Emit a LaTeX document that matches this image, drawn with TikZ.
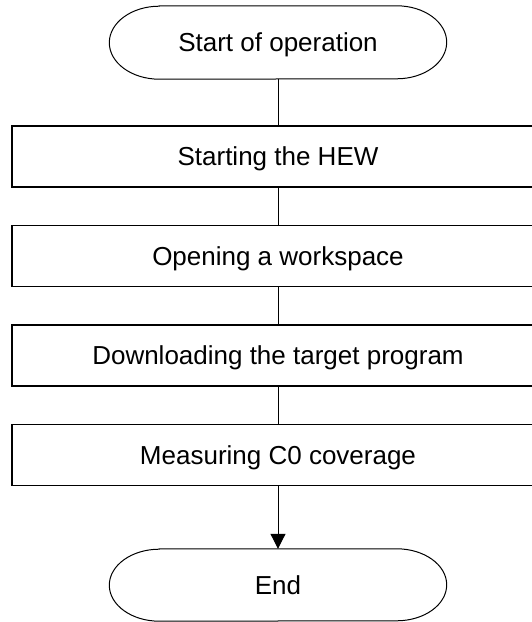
\documentclass[tikz,border=0pt]{standalone}
\usepackage{fontspec}
\setmainfont{Liberation Sans}
\usetikzlibrary{arrows.meta}
\begin{document}
\begin{tikzpicture}[x=1pt,y=1pt,
  txt/.style={font=\fontsize{26}{30}\selectfont, text height=18.7pt, text depth=0pt, inner sep=0pt},
  procbox/.style={txt, draw, line width=1.3pt, minimum width=532pt, minimum height=61pt},
  termnode/.style={txt, minimum width=337pt, minimum height=73pt},
  endnode/.style={txt, minimum width=337pt, minimum height=72pt},
  termline/.style={line width=1pt},
  conn/.style={line width=1pt}]
\useasboundingbox (0,0) rectangle (532,622);
\node[termnode] (start) at (278,579.5) {Start of operation};
\draw[termline] ([xshift=50pt]start.north west) -- ([xshift=-50pt]start.north east)
  arc[start angle=90,end angle=-90,x radius=50pt,y radius=36.5pt]
  -- ([xshift=50pt]start.south west)
  arc[start angle=270,end angle=90,x radius=50pt,y radius=36.5pt] -- cycle;
\node[procbox] (b1) at (278,465.5) {Starting the HEW};
\node[procbox] (b2) at (278,366) {Opening a workspace};
\node[procbox] (b3) at (278,266.5) {Downloading the target program};
\node[procbox] (b4) at (278,167) {Measuring C0 coverage};
\node[endnode] (end) at (278,37) {End};
\draw[termline] ([xshift=50pt]end.north west) -- ([xshift=-50pt]end.north east)
  arc[start angle=90,end angle=-90,x radius=50pt,y radius=36pt]
  -- ([xshift=50pt]end.south west)
  arc[start angle=270,end angle=90,x radius=50pt,y radius=36pt] -- cycle;
\draw[conn] (start) -- (b1);
\draw[conn] (b1) -- (b2);
\draw[conn] (b2) -- (b3);
\draw[conn] (b3) -- (b4);
\draw[conn,-{Triangle[width=15pt,length=15pt]}] (b4) -- (end);
\end{tikzpicture}
\end{document}
